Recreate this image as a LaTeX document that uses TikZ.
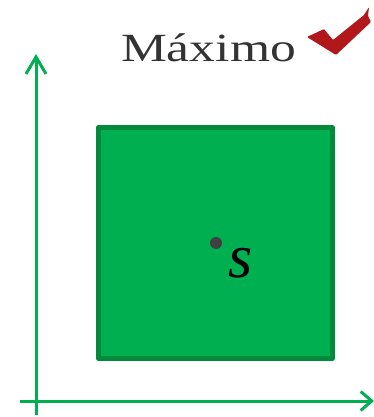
\documentclass[tikz,border=0pt]{standalone}
\usepackage{fontspec}
\setmainfont{Liberation Serif}
\usetikzlibrary{arrows.meta}
\definecolor{axisgreen}{HTML}{00B050}
\definecolor{boxfill}{HTML}{00B050}
\definecolor{boxedge}{HTML}{008A3A}
\definecolor{dotgray}{HTML}{404040}
\definecolor{titlegray}{HTML}{333333}
\definecolor{checkred}{HTML}{B2181B}
\tikzset{
  axisline/.style={draw=axisgreen, line width=3pt},
  region/.style={draw=boxedge, fill=boxfill, line width=5pt, line join=round},
}
\begin{document}
\begin{tikzpicture}[x=1pt,y=-1pt]
\useasboundingbox (0,0) rectangle (374,417);
% axes
\coordinate (yb) at (36,415);
\coordinate (yt) at (36,54);
\coordinate (xl) at (20,401);
\coordinate (xr) at (374,401);
\draw[axisline, -{Straight Barb[length=17pt,width=20pt,line width=3pt]}] (yb) -- (yt);
\draw[axisline, -{Straight Barb[length=11pt,width=19pt,line width=3pt]}] (xl) -- (xr);
% region
\draw[region] (98.5,127.5) rectangle (332.5,358.5);
% point
\fill[dotgray] (216,243) circle (6);
\node[anchor=base, inner sep=0pt, font=\fontsize{62}{62}\selectfont\itshape] (s) at (241,277) {s};
% title
\node[anchor=base, inner sep=0pt, text=titlegray] (title) at (208.5,62) {\scalebox{1.29}[1]{\fontsize{40}{40}\selectfont Máximo}};
% check mark
\fill[checkred, rounded corners=1pt] (307,37) -- (324,29) -- (333,40) -- (364,15) -- (369,7) -- (368,16) -- (371,22) -- (336,55) -- cycle;
\end{tikzpicture}
\end{document}
